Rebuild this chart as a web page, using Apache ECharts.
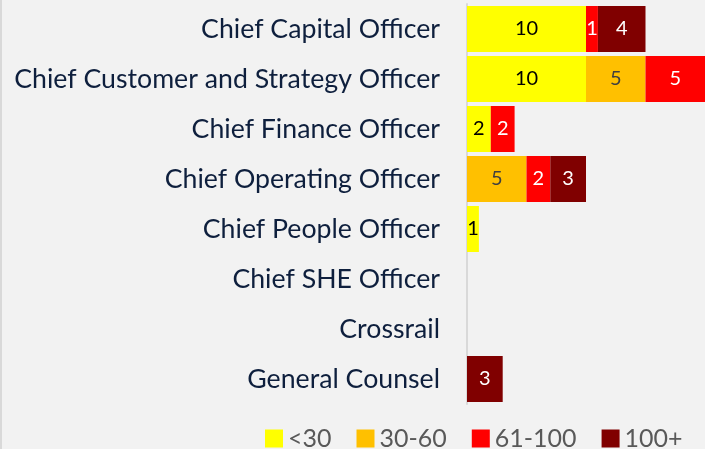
<!DOCTYPE html>
<html>
<head>
<meta charset="utf-8">
<script src="https://cdn.jsdelivr.net/npm/echarts@6/dist/echarts.min.js"></script>
<style>
    html, body {margin: 0; padding: 0; background: #f2f2f2;}
    #main__bar {width: 705px; height: 449px; box-sizing: border-box; border-left: 2px solid #d9d9d9;}
</style>
</head>
<body>
<div id="main__bar"></div>
<script>
const CATEGORIES = [
    'Chief Capital Officer',
    'Chief Customer and Strategy Officer',
    'Chief Finance Officer',
    'Chief Operating Officer',
    'Chief People Officer',
    'Chief SHE Officer',
    'Crossrail',
    'General Counsel',
];
const UNDER_30 = [10, 10, 2, 0, 1, 0, 0, 0];
const FROM_30_TO_60 = [0, 5, 0, 5, 0, 0, 0, 0];
const FROM_61_TO_100 = [1, 5, 2, 2, 0, 0, 0, 0];
const OVER_100 = [4, 0, 0, 3, 0, 0, 0, 3];

const FONT = 'Lato';

function makeSeries(name, values, color, labelColor) {
    return {
        name: name,
        type: 'bar',
        stack: 'total',
        barCategoryGap: '8%',
        data: values,
        itemStyle: {color: color},
        label: {
            show: true,
            color: labelColor,
            fontFamily: FONT,
            fontSize: 20,
            // hide empty segments
            formatter: function (params) {
                return params.value ? params.value : '';
            }
        }
    };
}

function initMainBar() {
    let chartDom = document.getElementById('main__bar');
    let myChart = echarts.init(chartDom);
    let option;

    option = {
        backgroundColor: '#f2f2f2',
        animation: false,
        grid: {left: 465, right: 0, top: 4, height: 400},
        legend: {
            left: 263,
            top: 426,
            padding: 0,
            icon: 'rect',
            itemWidth: 18,
            itemHeight: 18,
            itemGap: 25,
            textStyle: {color: '#595959', fontFamily: FONT, fontSize: 25, lineHeight: 18},
        },
        xAxis: {
            type: 'value',
            min: 0,
            max: 20,
            show: false,
        },
        yAxis: {
            type: 'category',
            data: CATEGORIES,
            inverse: true,
            axisTick: {show: false},
            axisLine: {lineStyle: {color: '#d9d9d9', width: 2}},
            axisLabel: {color: '#0e1f3d', fontFamily: FONT, fontSize: 26.7, margin: 27},
        },
        series: [
            makeSeries('<30', UNDER_30, '#ffff00', '#000000'),
            makeSeries('30-60', FROM_30_TO_60, '#ffc000', '#404040'),
            makeSeries('61-100', FROM_61_TO_100, '#ff0000', '#ffffff'),
            makeSeries('100+', OVER_100, '#800000', '#ffffff'),
        ],
    };

    option && myChart.setOption(option);
}

initMainBar();
</script>
</body>
</html>
